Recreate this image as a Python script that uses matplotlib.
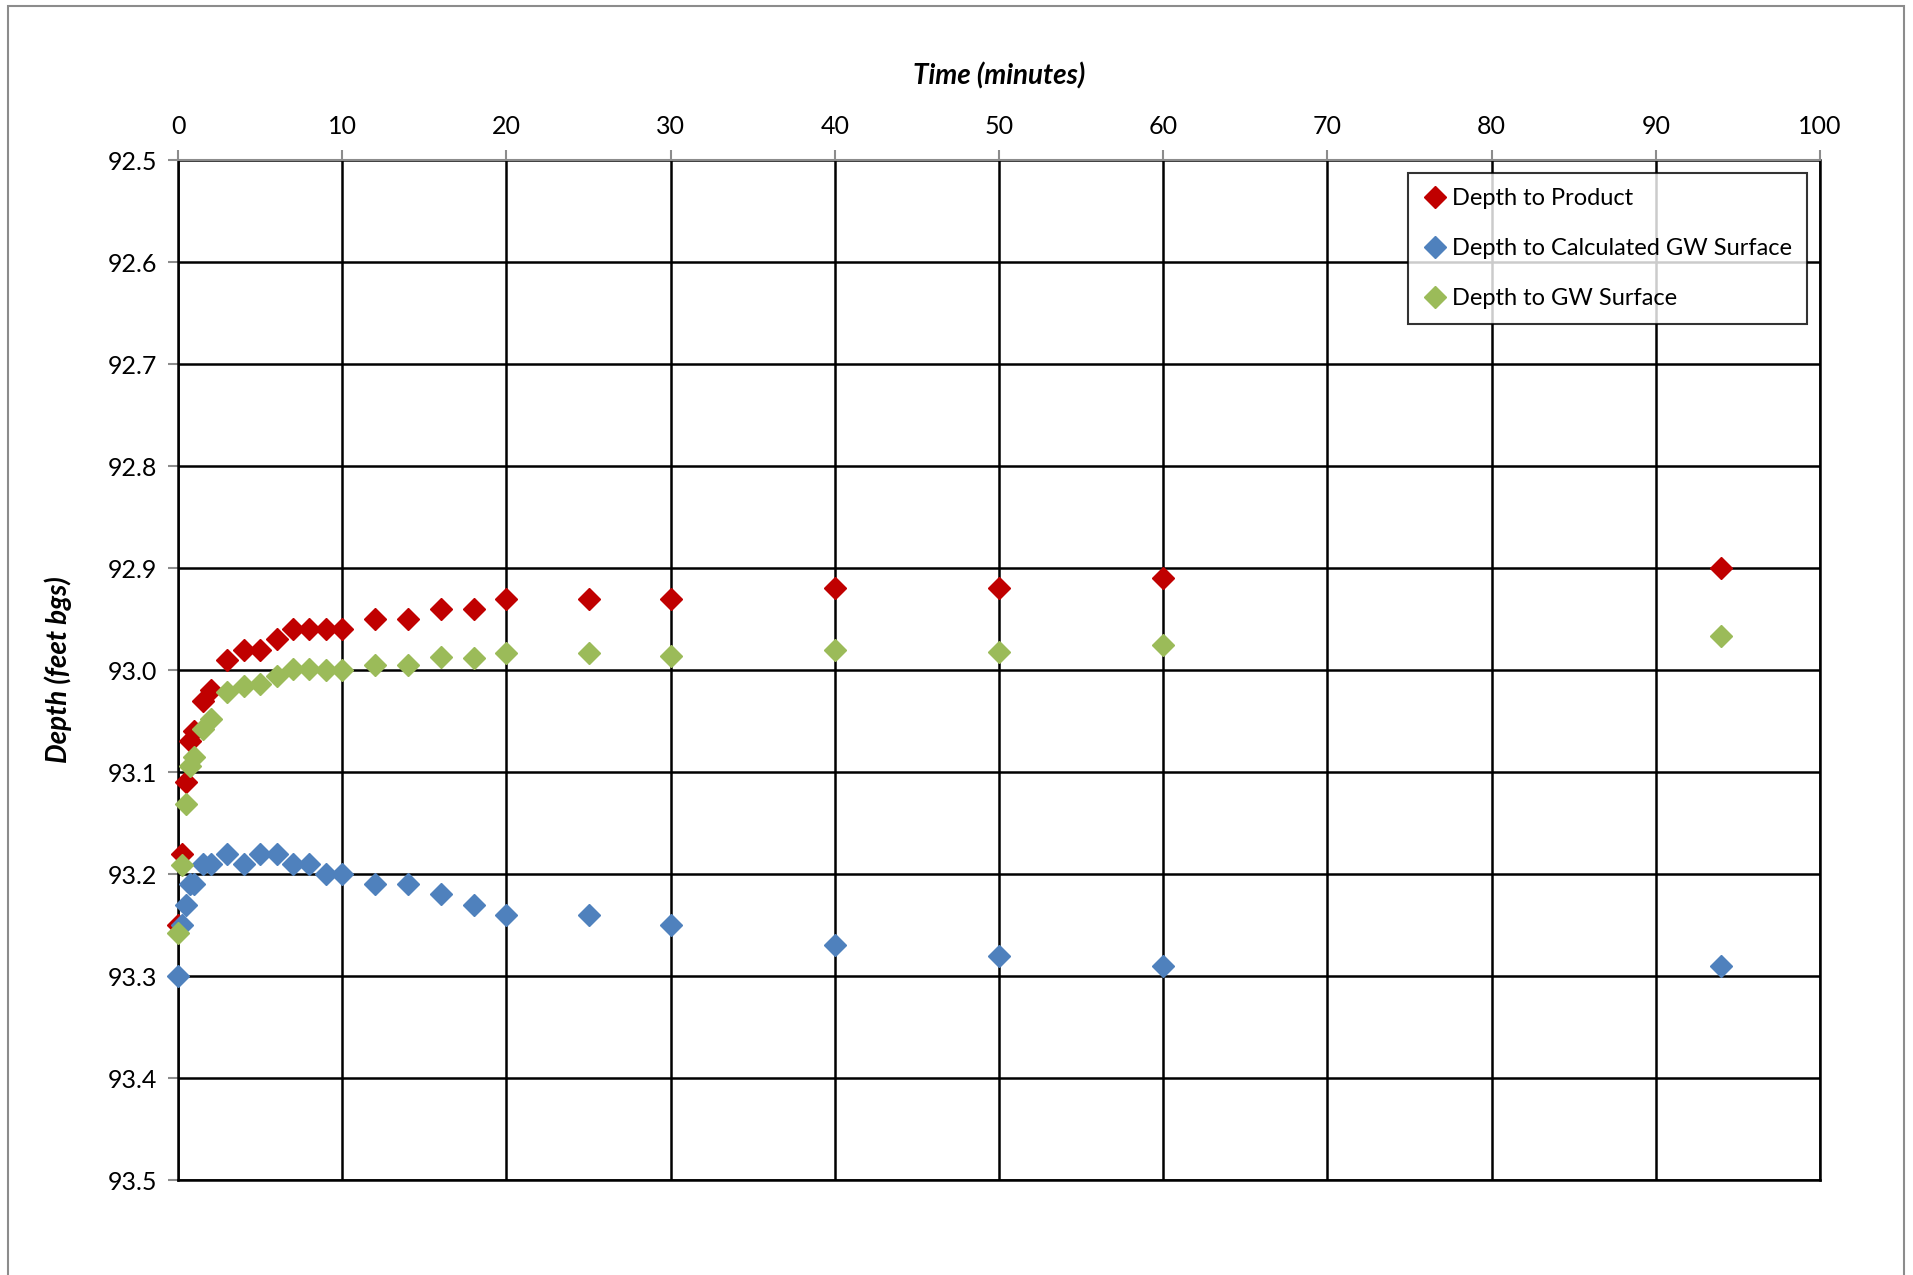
import matplotlib.pyplot as plt
from matplotlib.patches import Rectangle

plt.rcParams['font.family'] = ['Lato', 'DejaVu Sans']

time = [0, 0.25, 0.5, 0.75, 1, 1.5, 2, 3, 4, 5, 6, 7, 8, 9, 10,
        12, 14, 16, 18, 20, 25, 30, 40, 50, 60, 94]
product = [93.25, 93.18, 93.11, 93.07, 93.06, 93.03, 93.02, 92.99, 92.98, 92.98,
           92.97, 92.96, 92.96, 92.96, 92.96, 92.95, 92.95, 92.94, 92.94, 92.93,
           92.93, 92.93, 92.92, 92.92, 92.91, 92.90]
calc_gw = [93.30, 93.25, 93.23, 93.21, 93.21, 93.19, 93.19, 93.18, 93.19, 93.18,
           93.18, 93.19, 93.19, 93.20, 93.20, 93.21, 93.21, 93.22, 93.23, 93.24,
           93.24, 93.25, 93.27, 93.28, 93.29, 93.29]
gw = [93.258, 93.191, 93.131, 93.094, 93.085, 93.058, 93.048, 93.022, 93.016, 93.014,
      93.006, 92.999, 92.999, 93.0, 93.0, 92.995, 92.995, 92.987, 92.988, 92.983,
      92.983, 92.986, 92.980, 92.982, 92.975, 92.967]

fig = plt.figure(figsize=(19.13, 12.75), dpi=100)
ax = fig.add_axes([178/1913, 1 - 1180/1275, (1820-178)/1913, (1180-160)/1275])

fig.patches.append(Rectangle((8/1913, -0.1), (1904-8)/1913, 1.1 - 6/1275,
                             transform=fig.transFigure, fill=False,
                             edgecolor='#8c8c8c', lw=1.5))

ax.plot(time, product, 'D', color='#C00000', ms=11, label='Depth to Product',
        zorder=3, clip_on=False)
ax.plot(time, calc_gw, 'D', color='#4F81BD', ms=11, label='Depth to Calculated GW Surface',
        zorder=3, clip_on=False)
ax.plot(time, gw, 'D', color='#9BBB59', ms=11, label='Depth to GW Surface',
        zorder=3, clip_on=False)

ax.set_xlim(0, 100)
ax.set_ylim(93.5, 92.5)
ax.set_xticks(range(0, 101, 10))
ax.set_yticks([92.5 + 0.1*i for i in range(11)])
ax.set_yticklabels(['%.1f' % (92.5 + 0.1*i) for i in range(11)])

ax.xaxis.tick_top()
ax.xaxis.set_label_position('top')
ax.grid(True, color='black', lw=1.8, zorder=1)
ax.set_axisbelow(True)

for s in ['left', 'right', 'bottom']:
    ax.spines[s].set_color('black')
    ax.spines[s].set_linewidth(1.8)
ax.spines['top'].set_color('#8c8c8c')
ax.spines['top'].set_linewidth(1.5)

ax.tick_params(axis='x', colors='#8c8c8c', length=7, width=1.5, labelcolor='black',
               labelsize=18, pad=9)
ax.tick_params(axis='y', colors='#8c8c8c', length=7, width=1.5, labelcolor='black',
               labelsize=18, pad=8)

ax.set_xlabel('Time (minutes)', fontsize=20, fontweight='bold', fontstyle='italic', labelpad=22)
ax.set_ylabel('Depth (feet bgs)', fontsize=20, fontweight='bold', fontstyle='italic', labelpad=26)

leg = ax.legend(loc='upper right', bbox_to_anchor=(1807/1913, 1 - 173/1275),
                bbox_transform=fig.transFigure, fontsize=17, frameon=True,
                fancybox=False, edgecolor='black', handletextpad=0.2,
                handlelength=1.0, borderpad=0.65, labelspacing=1.22, borderaxespad=0)
leg.get_frame().set_linewidth(1.5)

fig.savefig('out.png', dpi=100)
